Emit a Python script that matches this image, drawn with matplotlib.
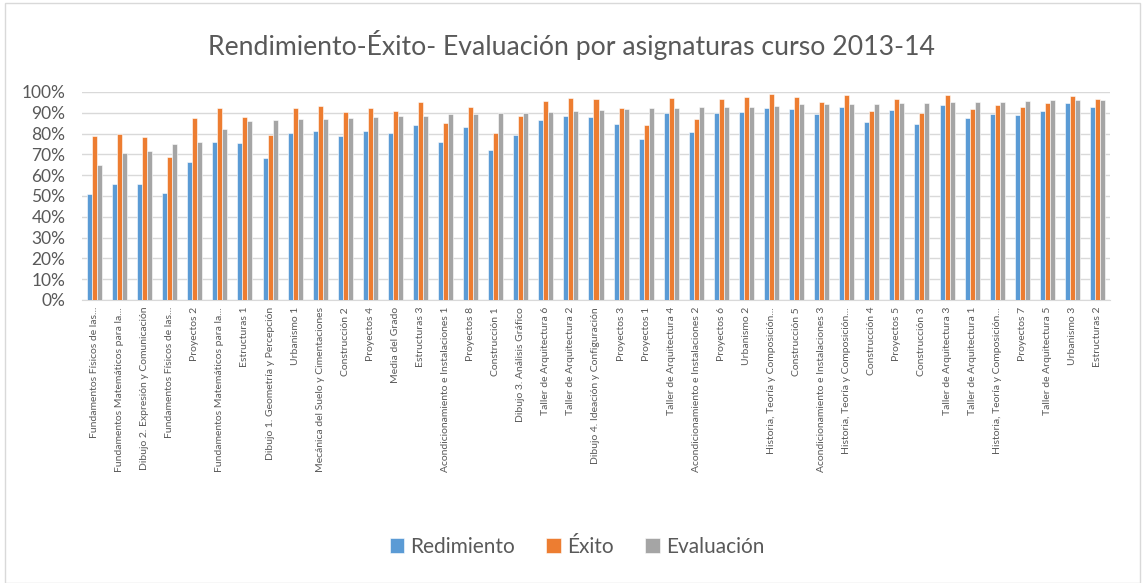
import numpy as np
import matplotlib
matplotlib.use("Agg")
import matplotlib.pyplot as plt
from matplotlib.patches import Rectangle
from matplotlib.ticker import PercentFormatter

# --- données ---
asignaturas = [
    "Fundamentos Físicos de las...",
    "Fundamentos Matemáticos para la...",
    "Dibujo 2. Expresión y Comunicación",
    "Fundamentos Físicos de las...",
    "Proyectos 2",
    "Fundamentos Matemáticos para la...",
    "Estructuras 1",
    "Dibujo 1. Geometría y Percepción",
    "Urbanismo 1",
    "Mecánica del Suelo y Cimentaciones",
    "Construcción 2",
    "Proyectos 4",
    "Media del Grado",
    "Estructuras 3",
    "Acondicionamiento e Instalaciones 1",
    "Proyectos 8",
    "Construcción 1",
    "Dibujo 3. Análisis Gráfico",
    "Taller de Arquitectura 6",
    "Taller de Arquitectura 2",
    "Dibujo 4. Ideación y Configuración",
    "Proyectos 3",
    "Proyectos 1",
    "Taller de Arquitectura 4",
    "Acondicionamiento e Instalaciones 2",
    "Proyectos 6",
    "Urbanismo 2",
    "Historia, Teoría y Composición...",
    "Construcción 5",
    "Acondicionamiento e Instalaciones 3",
    "Historia, Teoría y Composición...",
    "Construcción 4",
    "Proyectos 5",
    "Construcción 3",
    "Taller de Arquitectura 3",
    "Taller de Arquitectura 1",
    "Historia, Teoría y Composición...",
    "Proyectos 7",
    "Taller de Arquitectura 5",
    "Urbanismo 3",
    "Estructuras 2",
]

rendimiento = [51.0, 56.0, 56.0, 51.4, 66.5, 76.1, 75.6, 68.2, 80.4, 81.4,
               78.8, 81.4, 80.3, 84.3, 76.2, 83.1, 71.9, 79.3, 86.4, 88.6,
               88.0, 84.4, 77.5, 89.7, 80.7, 90.0, 90.5, 92.5, 91.8, 89.4,
               92.9, 85.4, 91.2, 84.8, 93.7, 87.5, 89.4, 88.8, 90.7, 94.5,
               92.9]
exito = [78.8, 79.8, 78.5, 68.9, 87.3, 92.5, 88.1, 79.1, 92.4, 93.4,
         90.5, 92.3, 90.9, 95.3, 85.2, 92.9, 80.3, 88.4, 95.7, 97.2,
         96.5, 92.3, 84.3, 96.9, 87.0, 96.8, 97.6, 99.2, 97.8, 95.0,
         98.6, 90.7, 96.6, 89.9, 98.6, 91.8, 93.7, 92.9, 94.7, 98.2,
         96.8]
evaluacion = [65.0, 70.6, 71.6, 75.0, 76.1, 82.3, 86.0, 86.4, 87.0, 87.2,
              87.3, 88.1, 88.6, 88.6, 89.6, 89.6, 89.7, 90.0, 90.4, 91.1,
              91.5, 91.7, 92.3, 92.5, 92.9, 92.9, 92.9, 93.4, 94.4, 94.2,
              94.4, 94.4, 94.5, 94.5, 95.0, 95.3, 95.3, 95.7, 96.0, 96.3,
              96.3]

series = ["Redimiento", "Éxito", "Evaluación"]
colores = ["#5B9BD5", "#ED7D31", "#A5A5A5"]
texto = "#595959"

plt.rcParams['font.family'] = ['Lato', 'DejaVu Sans']

fig = plt.figure(figsize=(11.42, 5.83), dpi=100)
ax = fig.add_axes([82 / 1142, 1 - 300 / 583, (1110 - 82) / 1142, (300 - 92) / 583])

x = np.arange(len(asignaturas))
ancho = 0.2
for k, (vals, nom, col) in enumerate(zip([rendimiento, exito, evaluacion], series, colores)):
    ax.bar(x + (k - 1) * ancho, vals, ancho, color=col, label=nom,
           edgecolor="white", linewidth=0.4, zorder=3)

ax.set_xlim(-0.5, len(asignaturas) - 0.5)
ax.set_ylim(0, 100)
ax.set_yticks(np.arange(0, 101, 10))
ax.yaxis.set_major_formatter(PercentFormatter(decimals=0))
ax.grid(axis="y", color="#D9D9D9", linewidth=1, zorder=0)

ax.set_xticks(x)
ax.set_xticklabels(asignaturas, rotation=90, fontsize=7.5, color=texto)
ax.tick_params(axis="y", labelsize=12.5, colors=texto, length=0, pad=12)
ax.tick_params(axis="x", length=0, pad=5)
for s in ["top", "right", "left"]:
    ax.spines[s].set_visible(False)
ax.spines["bottom"].set_color("#D9D9D9")

fig.text(0.5, 1 - 45 / 583, "Rendimiento-Éxito- Evaluación por asignaturas curso 2013-14",
         ha="center", va="center", fontsize=19.2, color=texto)

fig.legend(loc="center", bbox_to_anchor=(577 / 1142, 1 - 547 / 583), ncol=3,
           frameon=False, fontsize=15, labelcolor=texto, handlelength=0.7,
           handleheight=0.7, columnspacing=1.5, handletextpad=0.3)

fig.patches.append(Rectangle((5 / 1142, 0.5 / 583), 1135 / 1142, 580 / 583,
                             transform=fig.transFigure, fill=False,
                             edgecolor="#D9D9D9", linewidth=1))

fig.savefig("out.png", dpi=100)
